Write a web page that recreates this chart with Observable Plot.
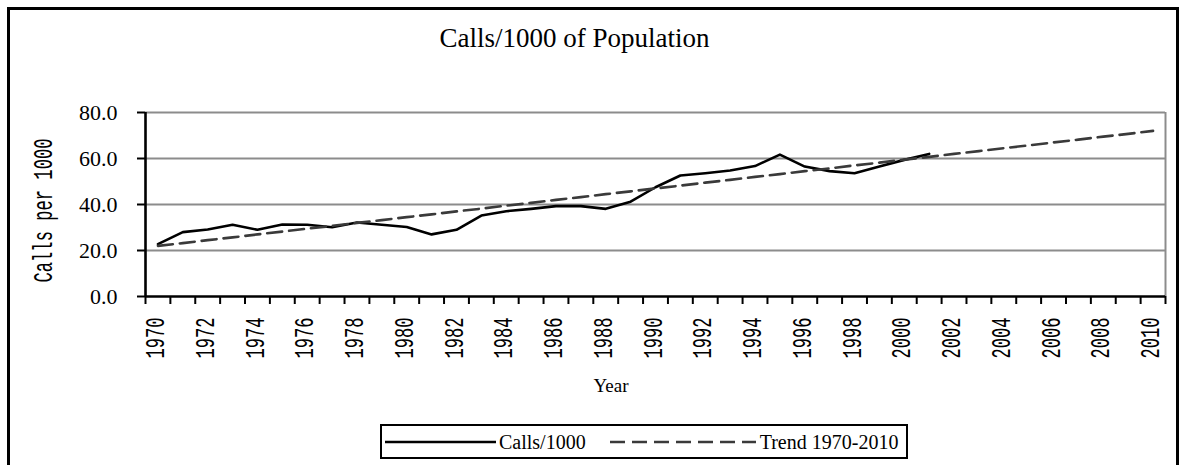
<!DOCTYPE html>
<html>
<head>
<meta charset="utf-8">
<script src="https://cdn.jsdelivr.net/npm/d3@7"></script>
<script src="https://cdn.jsdelivr.net/npm/@observablehq/plot@0.6"></script>
<style>
  body { margin: 0; background: #fff; width: 1185px; height: 465px; overflow: hidden; position: relative; }
  .frame { position: absolute; left: 7px; top: 7px; width: 1172px; height: 600px; border: 3px solid #000; box-sizing: border-box; }
  .serif { font-family: "Liberation Serif", "Times New Roman", serif; color: #000; }
  #title { position: absolute; left: 0; width: 1149px; top: 25px; text-align: center; font-size: 27px; line-height: 27px; }
  #xlabel { position: absolute; left: 0; width: 1222px; top: 376px; text-align: center; font-size: 19px; line-height: 19px; }
  #chart { position: absolute; left: 0; top: 0; }
  #legend { position: absolute; left: 380px; top: 424px; width: 528px; height: 35px; border: 2px solid #000; box-sizing: border-box; display: flex; align-items: center; font-size: 20px; line-height: 20px; white-space: nowrap; }
  #legend svg { display: block; }
</style>
</head>
<body>
<div class="frame"></div>
<div id="title" class="serif">Calls/1000 of Population</div>
<div id="chart"></div>
<div id="xlabel" class="serif">Year</div>
<div id="legend" class="serif"></div>
<script>
// ---- data ----
const years = [1970,1971,1972,1973,1974,1975,1976,1977,1978,1979,1980,1981,1982,1983,1984,1985,1986,1987,1988,1989,1990,1991,1992,1993,1994,1995,1996,1997,1998,1999,2000,2001,2002,2003,2004,2005,2006,2007,2008,2009,2010];
const callsYears = [1970,1971,1972,1973,1974,1975,1976,1977,1978,1979,1980,1981,1982,1983,1984,1985,1986,1987,1988,1989,1990,1991,1992,1993,1994,1995,1996,1997,1998,1999,2000,2001];
const calls = [22.8,28.0,29.1,31.2,29.0,31.3,31.2,30.1,32.2,31.2,30.2,27.0,29.0,35.2,37.1,38.1,39.3,39.3,38.1,41.2,47.5,52.6,53.6,54.8,56.7,61.7,56.5,54.5,53.6,56.5,59.4,62.0];
const trend = [22.0,23.2,24.5,25.7,27.0,28.2,29.5,30.7,32.0,33.2,34.5,35.7,37.0,38.2,39.5,40.7,42.0,43.2,44.5,45.7,47.0,48.2,49.5,50.7,52.0,53.2,54.5,55.7,57.0,58.2,59.5,60.7,62.0,63.2,64.5,65.7,67.0,68.2,69.5,70.7,72.0];
const xTickLabels = [1970,1972,1974,1976,1978,1980,1982,1984,1986,1988,1990,1992,1994,1996,1998,2000,2002,2004,2006,2008,2010];
const yTicks = [0,20,40,60,80];
const seriesNames = ["Calls/1000", "Trend 1970-2010"];
const yLabel = "Calls per 1000";

const callsData = callsYears.map((y, i) => ({year: y, value: calls[i]}));
const trendData = years.map((y, i) => ({year: y, value: trend[i]}));
const boundaries = years.map(y => y - 0.5).concat([years[years.length - 1] + 0.5]);

const SERIF = "Liberation Serif, Times New Roman, serif";
const MONO = "Liberation Mono, DejaVu Sans Mono, monospace";
const DASH = "15,7";

const chart = Plot.plot({
  width: 1185,
  height: 400,
  marginLeft: 145,
  marginRight: 20,
  marginTop: 112,
  marginBottom: 104,
  style: {background: "transparent", color: "#000", overflow: "visible"},
  x: {domain: [years[0] - 0.5, years[years.length - 1] + 0.5]},
  y: {domain: [0, 80]},
  marks: [
    Plot.gridY(yTicks.filter(d => d > 0), {stroke: "#8c8c8c", strokeOpacity: 1, strokeWidth: 2}),
    Plot.ruleX([years[years.length - 1] + 0.5], {y1: 0, y2: 80, stroke: "#8c8c8c", strokeWidth: 2}),
    Plot.axisY(yTicks, {tickFormat: d => d.toFixed(1), tickSize: 8, tickPadding: 20, strokeWidth: 2, fontSize: 22, fontFamily: SERIF, label: null}),
    Plot.axisX(boundaries, {tickSize: 8, strokeWidth: 2, tickFormat: () => "", label: null}),
    Plot.axisX(xTickLabels, {tickSize: 0, tickPadding: 21, rotate: -90, textAnchor: "end", dx: -13, fontSize: 27, fontFamily: MONO, tickFormat: d => String(d), label: null}),
    Plot.text([yLabel], {frameAnchor: "left", dx: -102, dy: 6, rotate: -90, text: d => d, fontSize: 27, fontFamily: MONO, textAnchor: "middle"}),
    Plot.ruleX([years[0] - 0.5], {y1: 0, y2: 80, stroke: "#000", strokeWidth: 2.6}),
    Plot.ruleY([0], {stroke: "#000", strokeWidth: 2.6}),
    Plot.lineY(callsData, {x: "year", y: "value", stroke: "#000", strokeWidth: 2.6}),
    Plot.lineY(trendData, {x: "year", y: "value", stroke: "#3a3a3a", strokeWidth: 2.6, strokeDasharray: DASH})
  ]
});
document.getElementById("chart").appendChild(chart);

// narrow, tall look of the monospace labels
d3.select(chart).selectAll("text").each(function() {
  const s = this.textContent;
  if (/^\d{4}$/.test(s)) {
    this.setAttribute("textLength", 41);
    this.setAttribute("lengthAdjust", "spacingAndGlyphs");
  } else if (s === yLabel) {
    this.setAttribute("textLength", 144);
    this.setAttribute("lengthAdjust", "spacingAndGlyphs");
  }
});

// legend
const legend = d3.select("#legend");
function sample(dash, w) {
  const s = legend.append("svg").attr("width", w).attr("height", 10);
  s.append("line").attr("x1", 0).attr("x2", w).attr("y1", 5).attr("y2", 5)
    .attr("stroke", dash ? "#3a3a3a" : "#000").attr("stroke-width", 2.4)
    .attr("stroke-dasharray", dash ? DASH : null);
}
legend.append("div").style("width", "3px");
sample(false, 111);
legend.append("span").style("margin-left", "3px").text(seriesNames[0]);
legend.append("div").style("width", "24px");
sample(true, 146);
legend.append("span").style("margin-left", "4px").text(seriesNames[1]);
</script>
</body>
</html>
